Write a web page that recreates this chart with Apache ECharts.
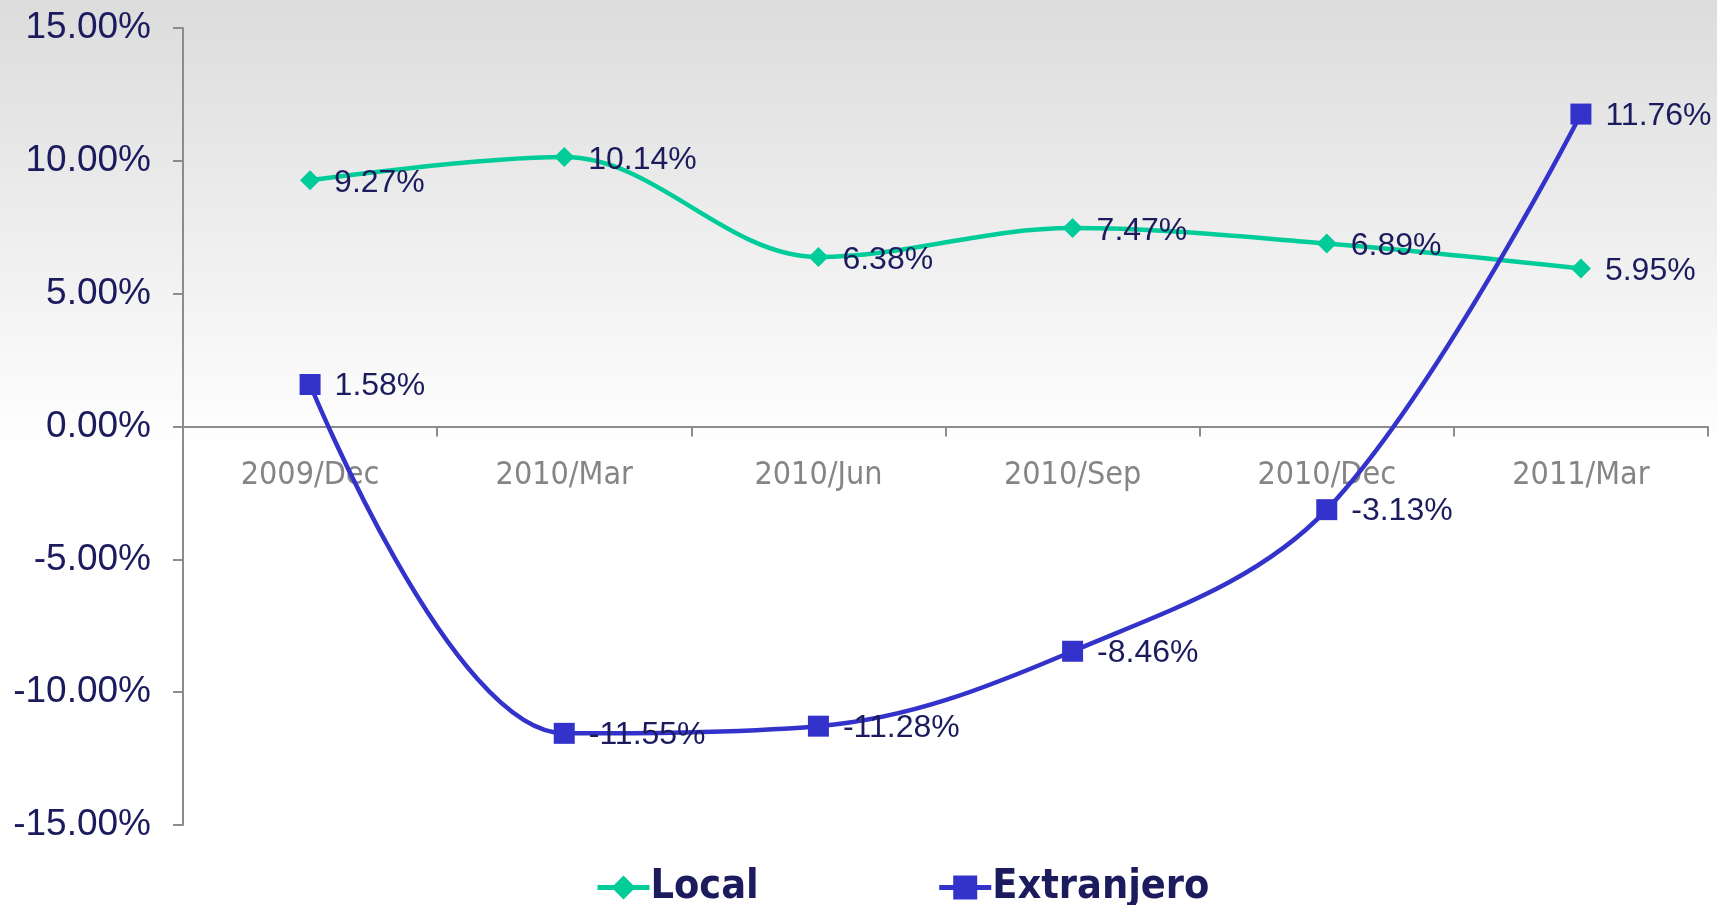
<!DOCTYPE html>
<html>
<head>
<meta charset="utf-8">
<script src="https://cdn.jsdelivr.net/npm/echarts@6/dist/echarts.min.js"></script>
<style>
  html, body { margin: 0; padding: 0; }
  #main { width: 1717px; height: 905px; }
</style>
</head>
<body>
<div id="main"></div>
<script>
// quarters
const categories = ['2009/Dec', '2010/Mar', '2010/Jun', '2010/Sep', '2010/Dec', '2011/Mar'];
// growth in percent
const localValues = [9.27, 10.14, 6.38, 7.47, 6.89, 5.95];
const extranjeroValues = [1.58, -11.55, -11.28, -8.46, -3.13, 11.76];
const seriesNames = ['Local', 'Extranjero'];

const navy = '#1b1b5e';
const labelFont = "'Liberation Sans', Arial, sans-serif";
const narrowFont = "'Liberation Sans Narrow', 'DejaVu Sans Condensed', Arial, sans-serif";

// grid box, the x axis sits on the 0 line (middle of the grid)
const gridTop = 28;
const gridBottom = 80;
const plotHeight = 905 - gridTop - gridBottom;

const chartDom = document.getElementById('main');
const myChart = echarts.init(chartDom);

const pctLabel = function (p) { return p.value.toFixed(2) + '%'; };

const option = {
  backgroundColor: new echarts.graphic.LinearGradient(0, 0, 0, 1, [
    { offset: 0, color: '#dcdcdc' },
    { offset: 0.5, color: '#ffffff' },
    { offset: 1, color: '#ffffff' }
  ]),
  animation: false,
  grid: {
    left: 183,
    right: 9,
    top: gridTop,
    bottom: gridBottom
  },
  legend: {
    data: seriesNames,
    bottom: -8,
    left: 590,
    itemGap: 178,
    itemWidth: 52,
    itemHeight: 30,
    lineStyle: { width: 5 },
    textStyle: {
      color: navy,
      fontSize: 41,
      fontWeight: 'bold',
      fontFamily: narrowFont,
      padding: [0, 0, 0, -4]
    }
  },
  xAxis: {
    type: 'category',
    data: categories,
    boundaryGap: true,
    offset: -plotHeight / 2,
    axisLine: { onZero: false, lineStyle: { color: '#8c8c8c', width: 2 } },
    axisTick: { show: true, length: 10, lineStyle: { color: '#8c8c8c', width: 2 } },
    axisLabel: {
      color: '#858585',
      fontSize: 32,
      margin: 33,
      fontFamily: narrowFont
    },
    splitLine: { show: false }
  },
  yAxis: {
    type: 'value',
    min: -15,
    max: 15,
    interval: 5,
    axisLine: { show: true, lineStyle: { color: '#8c8c8c', width: 2 } },
    axisTick: { show: true, length: 10, lineStyle: { color: '#8c8c8c', width: 2 } },
    axisLabel: {
      color: navy,
      fontSize: 37,
      margin: 32,
      fontFamily: labelFont,
      formatter: function (v) { return v.toFixed(2) + '%'; }
    },
    splitLine: { show: false }
  },
  series: [
    {
      name: 'Local',
      type: 'line',
      data: localValues,
      smooth: 0.35,
      symbol: 'diamond',
      symbolSize: 20,
      itemStyle: { color: '#00cc99' },
      lineStyle: { width: 4.5, color: '#00cc99' },
      label: {
        show: true,
        position: 'right',
        distance: 14,
        offset: [0, 3],
        color: navy,
        fontSize: 32,
        fontFamily: labelFont,
        formatter: pctLabel
      }
    },
    {
      name: 'Extranjero',
      type: 'line',
      data: extranjeroValues,
      smooth: 0.35,
      symbol: 'rect',
      symbolSize: 21,
      itemStyle: { color: '#3333cc' },
      lineStyle: { width: 4.5, color: '#3333cc' },
      label: {
        show: true,
        position: 'right',
        distance: 14,
        offset: [0, 2],
        color: navy,
        fontSize: 32,
        fontFamily: labelFont,
        formatter: pctLabel
      }
    }
  ]
};

option && myChart.setOption(option);
</script>
</body>
</html>
